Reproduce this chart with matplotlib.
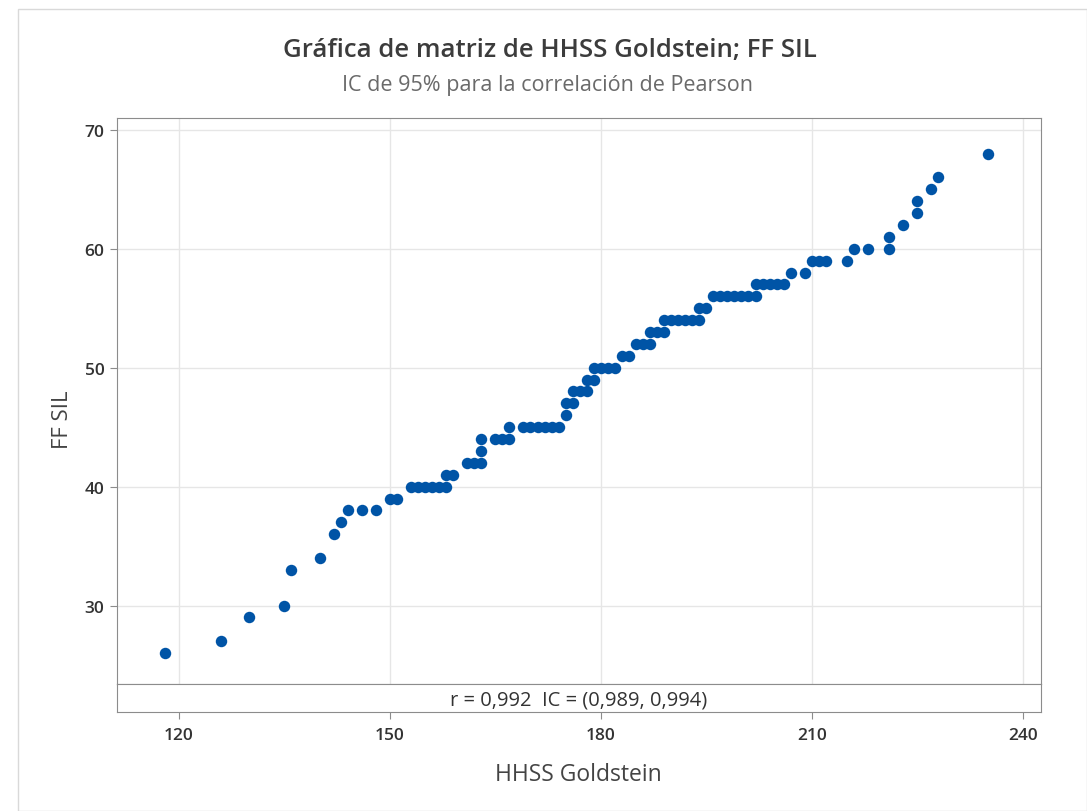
import matplotlib
matplotlib.use("Agg")
import matplotlib.pyplot as plt
from matplotlib.patches import Rectangle

# datos
hhss = [118, 126, 130, 135, 136, 140, 142, 143, 144, 146, 148, 150, 151,
        153, 154, 155, 156, 157, 158, 158, 159, 161, 162, 163, 163, 163,
        165, 166, 167, 167, 169, 170, 171, 172, 173, 174, 175, 175, 176,
        176, 177, 178, 178, 179, 179, 180, 181, 182, 183, 184, 185, 186,
        187, 187, 188, 189, 189, 190, 191, 192, 193, 194, 194, 195, 196,
        197, 198, 199, 200, 201, 202, 202, 203, 204, 205, 206, 207, 209,
        210, 211, 212, 215, 216, 218, 221, 221, 223, 225, 225, 227, 228, 235]
ff_sil = [26, 27, 29, 30, 33, 34, 36, 37, 38, 38, 38, 39, 39,
          40, 40, 40, 40, 40, 40, 41, 41, 42, 42, 42, 43, 44,
          44, 44, 44, 45, 45, 45, 45, 45, 45, 45, 46, 47, 47,
          48, 48, 48, 49, 49, 50, 50, 50, 50, 51, 51, 52, 52,
          52, 53, 53, 53, 54, 54, 54, 54, 54, 54, 55, 55, 56,
          56, 56, 56, 56, 56, 56, 57, 57, 57, 57, 57, 58, 58,
          59, 59, 59, 59, 60, 60, 60, 61, 62, 63, 64, 65, 66, 68]

x_ticks = [120, 150, 180, 210, 240]
y_ticks = [30, 40, 50, 60, 70]

titulo = "Gráfica de matriz de HHSS Goldstein; FF SIL"
subtitulo = "IC de 95% para la correlación de Pearson"
texto_r = "r = 0,992  IC = (0,989, 0,994)"

plt.rcParams['font.family'] = ['Open Sans', 'DejaVu Sans']

W, H = 1087, 812
fig = plt.figure(figsize=(W / 100, H / 100), dpi=100)

# borde claro alrededor de la imagen
fig.patches.append(Rectangle((18 / W, 0), 1 - 18 / W, 1 - 10 / H, transform=fig.transFigure,
                             fill=False, edgecolor='#d9d9d9', lw=1))

left, right = 117, 1041
top, strip_top, bottom = 119, 685, 713
ax = fig.add_axes([left / W, 1 - strip_top / H, (right - left) / W, (strip_top - top) / H])
ax_s = fig.add_axes([left / W, 1 - bottom / H, (right - left) / W, (bottom - strip_top) / H],
                    sharex=ax)

ax.scatter(hhss, ff_sil, s=68, color='#0054a6', zorder=3, linewidths=0)

ax.set_xlim(111.2, 242.6)
ax.set_ylim(23.4, 71.0)
ax.set_xticks(x_ticks)
ax.set_yticks(y_ticks)
ax.grid(True, color='#e6e6e6', lw=1)
ax.tick_params(axis='x', bottom=False, labelbottom=False)
ax.tick_params(axis='y', direction='out', length=5, color='#8c8c8c', labelsize=12.5,
               labelcolor='#333333', pad=4)
for lab in ax.get_yticklabels():
    lab.set_fontweight('semibold')
for sp in ax.spines.values():
    sp.set_color('#8c8c8c')

ax_s.set_yticks([])
ax_s.tick_params(axis='x', direction='out', length=5, color='#8c8c8c', labelsize=12.5,
                 labelcolor='#333333', pad=6)
for lab in ax_s.get_xticklabels():
    lab.set_fontweight('semibold')
for sp in ax_s.spines.values():
    sp.set_color('#8c8c8c')
ax_s.text(0.5, 0.45, texto_r, transform=ax_s.transAxes, ha='center', va='center',
          fontsize=14.5, color='#333333')

fig.text(550 / W, 1 - 50 / H, titulo, ha='center', va='center', fontsize=18.5,
         fontweight='semibold', color='#3c3c3c')
fig.text(548 / W, 1 - 85 / H, subtitulo, ha='center', va='center', fontsize=15.5,
         color='#6a6a6a')
fig.text(578 / W, 1 - 775 / H, "HHSS Goldstein", ha='center', va='center', fontsize=16.5,
         color='#444444')
fig.text(62 / W, 1 - 420 / H, "FF SIL", ha='center', va='center', rotation=90,
         fontsize=16, color='#444444')

fig.savefig("out.png", dpi=100)
